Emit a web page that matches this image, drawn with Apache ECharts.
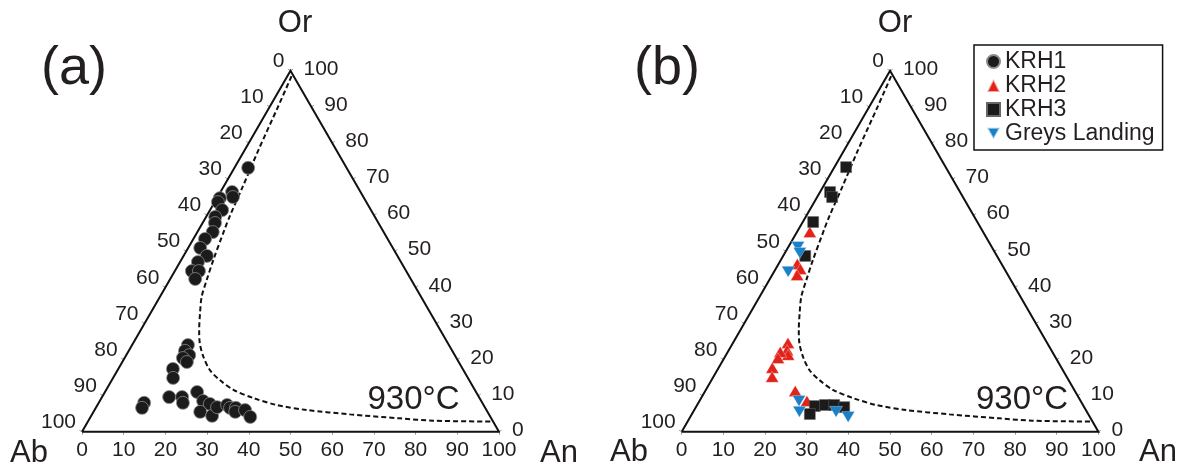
<!DOCTYPE html>
<html><head><meta charset="utf-8">
<script src="https://cdn.jsdelivr.net/npm/echarts@6/dist/echarts.min.js"></script>
<style>html,body{margin:0;padding:0;background:#fff}#c{width:1184px;height:470px}</style>
</head><body><div id="c"></div>
<script>
// ---- data (ternary percentages: An, Or; Ab = 100 - An - Or) ----
const tickValues = [0, 10, 20, 30, 40, 50, 60, 70, 80, 90, 100];

const krh1An = [3.3, 2.8, 3.7, 0.7, 0.8, 2.9, 2.2, 3.0, 3.7, 2.8, 2.9, 5.6, 4.3, 4.1, 5.8, 6.0,
                13.4, 13.5, 15.1, 14.0, 15.5, 13.1, 14.4, 10.9, 11.1, 16.1, 19.2, 20.2, 22.1, 24.8,
                26.8, 25.6, 29.0, 29.0, 31.1, 32.2, 33.6, 34.0, 36.1, 38.3];
const krh1Or = [73.1, 66.4, 65.0, 64.7, 63.6, 61.4, 59.5, 57.8, 55.3, 53.4, 50.9, 48.7, 47.0, 44.5, 44.5, 42.3,
                24.0, 22.4, 21.2, 20.4, 19.3, 17.4, 14.9, 8.0, 6.6, 9.6, 9.6, 8.0, 11.0, 8.5,
                7.7, 5.5, 4.4, 6.8, 7.4, 6.6, 6.6, 5.5, 6.0, 4.1];

const krh2An = [3.1, 4.5, 5.9, 6.0, 13.2, 14.0, 14.9, 12.6, 12.9, 12.9, 14.1, 21.6, 25.8];
const krh2Or = [55.3, 46.5, 45.1, 43.4, 24.6, 22.6, 21.3, 22.1, 20.4, 17.7, 15.2, 11.3, 8.5];

const krh3An = [2.8, 2.4, 3.6, 2.5, 5.3, 28.4, 30.7, 32.9, 35.6, 28.3];
const krh3Or = [73.3, 66.4, 65.0, 58.1, 48.7, 7.1, 7.4, 7.4, 6.8, 4.9];

const greysAn = [2.3, 3.6, 3.4, 23.9, 25.5, 34.3, 37.9];
const greysOr = [51.2, 49.5, 44.3, 8.5, 5.5, 5.5, 4.1];

// 930 °C solvus isotherm
const isoAn = [1.0, 2.0, 3.3, 4.6, 5.6, 6.2, 7.7, 8.9, 10.0, 11.9, 14.0, 16.0, 18.7, 22.1, 25.9, 30.5, 36.5, 43.0, 50.9, 61.9, 74.4, 82.7, 97.2];
const isoOr = [98.5, 90, 78, 68, 59.6, 55.9, 47.6, 42.0, 37.4, 32.8, 28.2, 24.5, 20.8, 17.1, 14.3, 11.6, 9.3, 7.4, 6.0, 4.8, 3.7, 3.05, 2.8];

// triangle vertices (An, Or): Ab, Or, An, back to Ab
const frameAn = [0, 0, 100, 0];
const frameOr = [0, 100, 0, 0];

// ---- helpers ----
const S3 = Math.sqrt(3) / 2;
const H = 100 * S3;
function tern(an, or) { return an.map((a, i) => [a + or[i] / 2, or[i] * S3]); }
const FONT = '"Liberation Sans", Arial, sans-serif';
const TXT = '#231f20';
const TICKFS = 21;

function edgeRender(params, api) {
  const v = api.value(0);
  const pL = api.coord([(100 - v) / 2, (100 - v) * S3]);
  const pR = api.coord([100 - v / 2, v * S3]);
  return {
    type: 'group',
    children: [
      { type: 'line', shape: { x1: pL[0], y1: pL[1], x2: pL[0] - 3 * 0.866, y2: pL[1] - 1.5 }, style: { stroke: '#999', lineWidth: 1 } },
      { type: 'line', shape: { x1: pR[0], y1: pR[1], x2: pR[0] + 3 * 0.866, y2: pR[1] - 1.5 }, style: { stroke: '#999', lineWidth: 1 } },
      { type: 'text', x: pL[0] - 6, y: pL[1] - 9.5,
        style: { text: String(v), font: TICKFS + 'px ' + FONT, fill: TXT, align: 'right', verticalAlign: 'middle', textAlign: 'right', textVerticalAlign: 'middle' } },
      { type: 'text', x: pR[0] + 13, y: pR[1] - 1.5,
        style: { text: String(v), font: TICKFS + 'px ' + FONT, fill: TXT, align: 'left', verticalAlign: 'middle', textAlign: 'left', textVerticalAlign: 'middle' } }
    ]
  };
}

function panelBase(idx) {
  return [
    { type: 'line', xAxisIndex: idx, yAxisIndex: idx, data: tern(frameAn, frameOr), symbol: 'none', clip: false, silent: true,
      lineStyle: { color: '#111', width: 2, join: 'miter' }, z: 2 },
    { type: 'line', xAxisIndex: idx, yAxisIndex: idx, data: tern(isoAn, isoOr), symbol: 'none', smooth: 0.3, clip: false, silent: true,
      lineStyle: { color: '#111', width: 2, type: [5, 3] }, z: 2 },
    { type: 'custom', xAxisIndex: idx, yAxisIndex: idx, data: tickValues.map(v => [v, 0]), renderItem: edgeRender, clip: false, silent: true, z: 2 }
  ];
}

const downTri = 'path://M0,0L2,0L1,1.732Z';

const series = [
  ...panelBase(0),
  ...panelBase(1),
  { name: 'KRH1', type: 'scatter', xAxisIndex: 0, yAxisIndex: 0, data: tern(krh1An, krh1Or), clip: false,
    symbol: 'circle', symbolSize: 13, itemStyle: { color: '#1b1b1b', borderColor: '#8a8a8a', borderWidth: 0.8, opacity: 1 }, z: 5 },
  { name: 'KRH2', type: 'scatter', xAxisIndex: 1, yAxisIndex: 1, data: tern(krh2An, krh2Or), clip: false,
    symbol: 'triangle', symbolSize: [13, 11], itemStyle: { color: '#e2231a', borderColor: 'rgba(255,255,255,0.6)', borderWidth: 0.5, opacity: 1 }, z: 5 },
  { name: 'KRH3', type: 'scatter', xAxisIndex: 1, yAxisIndex: 1, data: tern(krh3An, krh3Or), clip: false,
    symbol: 'rect', symbolSize: 11, itemStyle: { color: '#1b1b1b', borderColor: '#666', borderWidth: 0.5, opacity: 1 }, z: 5 },
  { name: 'Greys Landing', type: 'scatter', xAxisIndex: 1, yAxisIndex: 1, data: tern(greysAn, greysOr), clip: false,
    symbol: downTri, symbolSize: [13, 11], itemStyle: { color: '#1a80c8', borderColor: 'rgba(255,255,255,0.6)', borderWidth: 0.5, opacity: 1 }, z: 5 }
];

function xAx(idx) {
  return { gridIndex: idx, type: 'value', min: 0, max: 100, interval: 10,
    axisLine: { show: false }, splitLine: { show: false },
    axisTick: { show: true, length: 3, lineStyle: { color: '#999', width: 1 } },
    axisLabel: { fontSize: TICKFS, color: TXT, margin: 8, fontFamily: FONT } };
}
function yAx(idx) { return { gridIndex: idx, type: 'value', min: 0, max: H, show: false }; }

function txt(text, x, y, size) {
  return { type: 'text', x: x, y: y, silent: true,
    style: { text: text, font: size + 'px ' + FONT, fill: TXT, align: 'center', verticalAlign: 'middle', textAlign: 'center', textVerticalAlign: 'middle' } };
}

const option = {
  animation: false,
  backgroundColor: '#fff',
  grid: [
    { left: 82, top: 70.7, width: 417, height: 361 },
    { left: 681.7, top: 70.8, width: 416.7, height: 360.9 }
  ],
  xAxis: [xAx(0), xAx(1)],
  yAxis: [yAx(0), yAx(1)],
  legend: {
    data: ['KRH1', 'KRH2', 'KRH3', 'Greys Landing'],
    orient: 'vertical', left: 974, top: 45,
    borderColor: '#111', borderWidth: 1.5, borderRadius: 0,
    padding: [5, 8, 5, 12], itemGap: 1, itemWidth: 13, itemHeight: 13,
    selectedMode: false,
    textStyle: { fontSize: 23, lineHeight: 22, color: TXT, fontFamily: FONT }
  },
  graphic: [
    txt('(a)', 74, 69, 54), txt('(b)', 667, 69, 54),
    txt('Or', 295, 23, 31), txt('Or', 895, 23, 31),
    txt('Ab', 29, 453, 31), txt('Ab', 629, 452, 31),
    txt('An', 559, 453, 31), txt('An', 1158, 452, 31),
    txt('930°C', 413.5, 400, 33), txt('930°C', 1022, 400, 33)
  ],
  series: series
};

const chart = echarts.init(document.getElementById('c'), null, { renderer: 'canvas' });
chart.setOption(option);
</script>
</body></html>
